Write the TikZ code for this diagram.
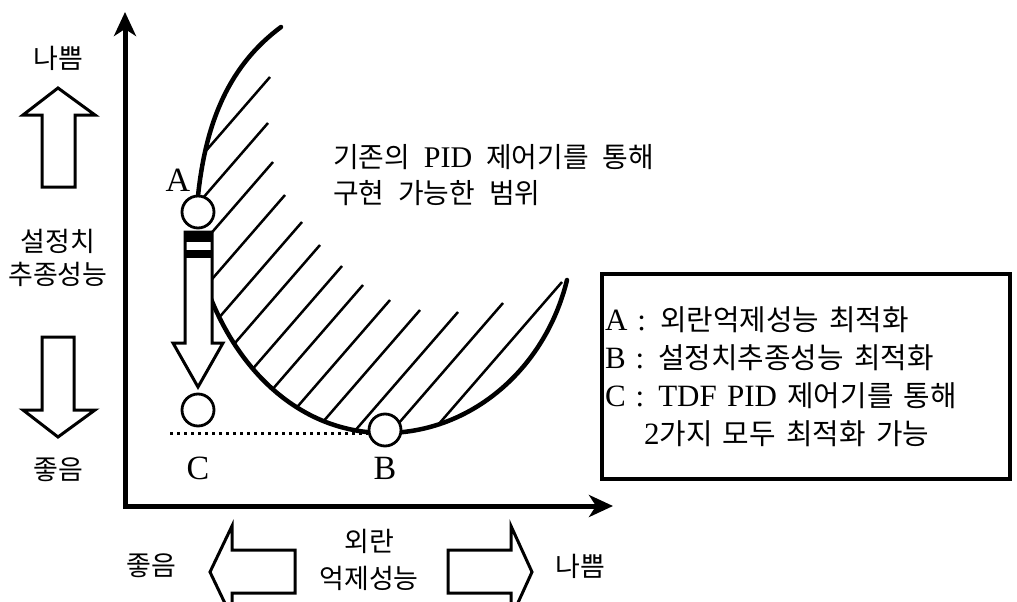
\documentclass[tikz,border=0pt]{standalone}
\usepackage{fontspec}
\setmainfont{Liberation Serif}
\newfontfamily\kr{Noto Sans CJK KR}[Scale=0.93, WordSpace=2.2]
\usetikzlibrary{arrows.meta, positioning}
\tikzset{>={Stealth[length=24pt, width=22pt, inset=7pt]},
  axis/.style={line width=5pt},
  bound/.style={line width=4.5pt, line cap=round},
  hatch/.style={line width=2.5pt},
  dot/.style={circle, draw, line width=2.8pt, fill=white, minimum size=32pt, inner sep=0pt},
  blockarrow/.style={draw, line width=3pt, fill=white, line join=miter},
  dotline/.style={line width=3pt, dash pattern=on 3pt off 4pt},
  lbl/.style={font=\fontsize{34}{34}\selectfont, inner sep=0pt},
  txt/.style={font=\kr\fontsize{29}{33}\selectfont, align=center, inner sep=0pt},
}

\begin{document}
\begin{tikzpicture}[x=1pt, y=-1pt]
	\clip (0,0) rectangle (1017,602);
	\fill[white] (0,0) rectangle (1017,602);
	% axes
	\coordinate (O) at (125,506);
	\coordinate (ytip) at (125,12);
	\coordinate (xtip) at (613,506);
	\draw[axis,<->] (ytip) -- (O) -- (xtip);
	% hatched range
	\begin{scope}
		\clip (281,27) .. controls (230,65) and (206,120) .. (198,196) -- (203,283)
			-- (205,283) .. controls (235,370) and (300,433) .. (385,433)
			.. controls (470,433) and (545,370) .. (567,280) -- (620,0) -- (281,0) -- cycle;
		\foreach \p in {(270,77),(268,123),(273,162),(285,195),(302,222),(320,245),(342,266),
			(363,285),(390,300),(420,310),(458,312),(503,303),(562,282)}
			\draw[hatch] \p -- ++(-131,151);
	\end{scope}
	\draw[bound] (198,196) .. controls (206,120) and (230,65) .. (281,27);
	\draw[bound] (205,283) .. controls (235,370) and (300,433) .. (385,433)
		.. controls (470,433) and (545,370) .. (567,280);
	% points
	\node[dot] (A) at (198,212) {};
	\node[dot] (C) at (198,410) {};
	\node[dot] (B) at (385,430) {};
	\coordinate (c0) at (170,433);
	\draw[dotline] (c0) -- (c0 -| B.west);
	\draw[blockarrow] (185,232) -- (212,232) -- (212,343) -- (223,343) -- (198,387)
		-- (173,343) -- (185,343) -- cycle;
	\fill (185,232) rectangle (212,242);
	\fill (185,250) rectangle (212,258);
	\node[lbl] (labA) at (178,180) {A};
	\node[lbl] (labC) at (198,468) {C};
	\node[lbl] (labB) at (385,468) {B};
	\node[txt, anchor=west, align=left, font=\kr\fontsize{30}{36}\selectfont] (range) at (333,175)
		{기존의 {\rmfamily PID} 제어기를 통해\\구현 가능한 범위};
	% vertical axis meaning
	\node[txt] (bad1) at (58,58) {나쁨};
	\draw[blockarrow] (42,187) -- (42,115) -- (23,115) -- (58,88) -- (95,115)
		-- (75,115) -- (75,187) -- cycle;
	\node[txt] (track) at (58,258) {설정치\\추종성능};
	\draw[blockarrow] (42,337) -- (74,337) -- (74,410) -- (95,410) -- (58,437)
		-- (23,410) -- (42,410) -- cycle;
	\node[txt] (good1) at (58,470) {좋음};
	% horizontal axis meaning
	\node[txt] (good2) at (151,566) {좋음};
	\draw[blockarrow] (295,550) -- (232,550) -- (232,526) -- (210,572) -- (232,618)
		-- (232,593) -- (295,593) -- cycle;
	\node[txt, font=\kr\fontsize{29}{37}\selectfont] (reject) at (369,560) {외란\\억제성능};
	\draw[blockarrow] (448,550) -- (511,550) -- (511,526) -- (532,572) -- (511,618)
		-- (511,593) -- (448,593) -- cycle;
	\node[txt] (bad2) at (580,566) {나쁨};
	% legend
	\node[draw, line width=4pt, anchor=north west, text width=402pt, inner xsep=3pt,
		minimum height=205pt, align=left, font=\fontsize{31}{38}\selectfont] (legend) at (600,272)
		{A\hspace{10pt}:\hspace{14pt}{\kr 외란억제성능 최적화}\\
		B\hspace{10pt}:\hspace{14pt}{\kr 설정치추종성능 최적화}\\
		C\hspace{10pt}:\hspace{14pt}TDF PID {\kr 제어기를 통해}\\
		\hspace*{39pt}2{\kr 가지 모두 최적화 가능}};
\end{tikzpicture}
\end{document}
